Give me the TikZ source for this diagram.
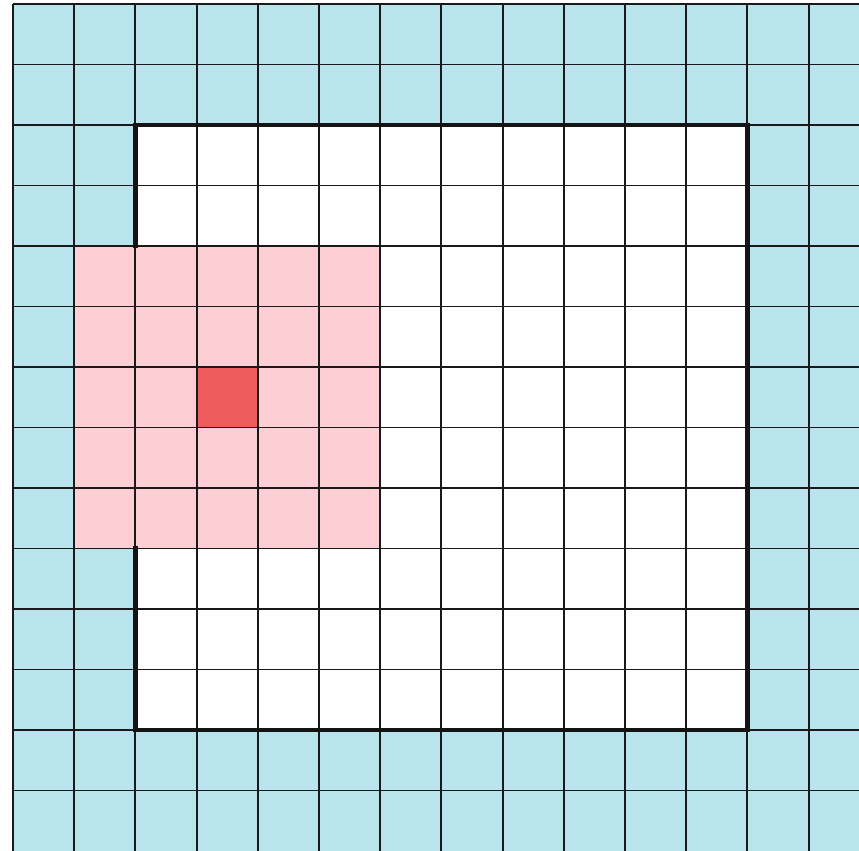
\documentclass[tikz,border=0pt]{standalone}
\definecolor{cellblue}{RGB}{186,228,237}
\definecolor{cellpink}{RGB}{253,207,212}
\definecolor{cellred}{RGB}{238,92,92}
\newcommand{\gx}[1]{13+61.2*#1}
\newcommand{\gy}[1]{4+60.5*#1}
\begin{document}
\begin{tikzpicture}[x=0.02cm,y=-0.02cm,
  gridline/.style={line width=1.1pt,draw=black!90},
  boundary/.style={line width=2.8pt,draw=black!92,line join=miter,line cap=rect}]
\useasboundingbox (0,0) rectangle (859,851);
\clip (0,0) rectangle (859,851);
\fill[white] (0,0) rectangle (859,851);
% outer blue region
\fill[cellblue] ({\gx{0}},{\gy{0}}) rectangle (859,851);
% inner white region
\fill[white] ({\gx{2}},{\gy{2}}) rectangle ({\gx{12}},{\gy{12}});
% pink neighbourhood
\fill[cellpink] ({\gx{1}},{\gy{4}}) rectangle ({\gx{6}},{\gy{9}});
% red centre cell
\fill[cellred] ({\gx{3}},{\gy{6}}) rectangle ({\gx{4}},{\gy{7}});
% grid lines
\foreach \i in {0,...,13}{
  \draw[gridline] ({\gx{\i}},{\gy{0}}) -- ({\gx{\i}},851);
}
\foreach \j in {0,...,13}{
  \draw[gridline] ({\gx{0}},{\gy{\j}}) -- (859,{\gy{\j}});
}
% thick boundary (broken where the pink block covers it)
\draw[boundary] ({\gx{2}},{\gy{4}}) -- ({\gx{2}},{\gy{2}}) -- ({\gx{12}},{\gy{2}})
  -- ({\gx{12}},{\gy{12}}) -- ({\gx{2}},{\gy{12}}) -- ({\gx{2}},{\gy{9}});
\end{tikzpicture}
\end{document}
